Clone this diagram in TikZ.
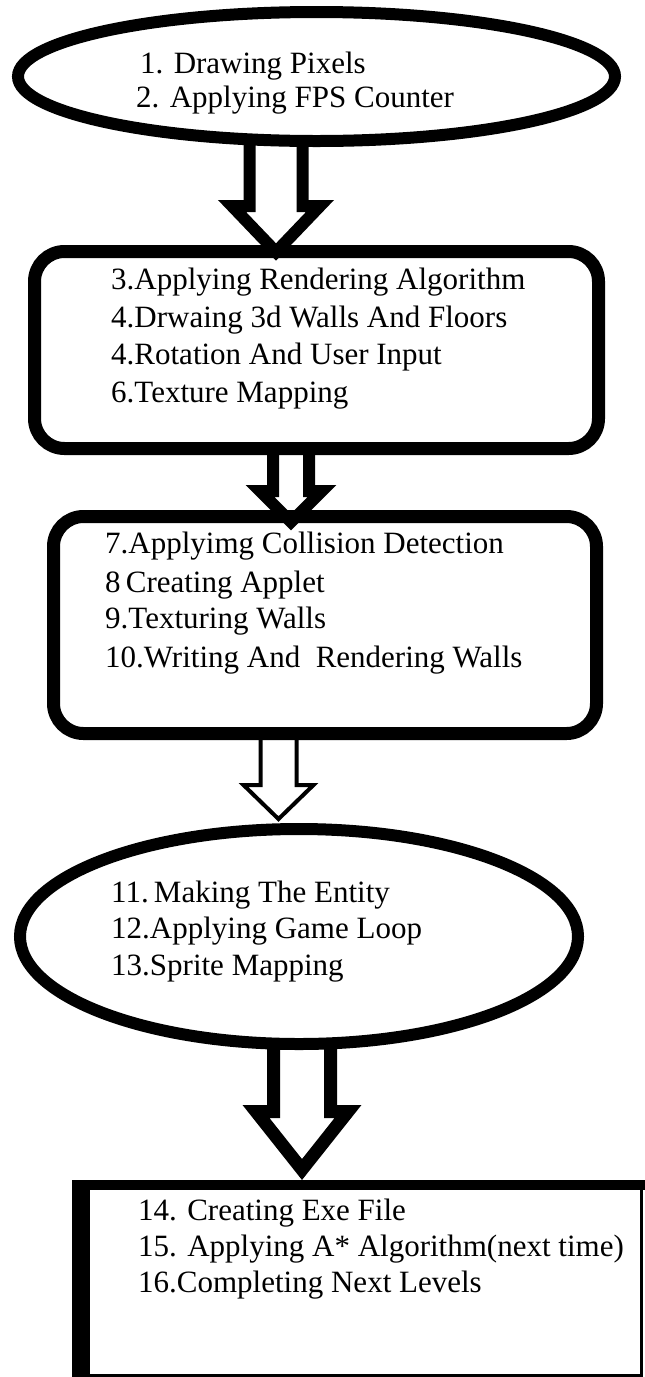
\documentclass[tikz,border=0pt]{standalone}
\usepackage{fontspec}
\setmainfont{Liberation Serif}
\usetikzlibrary{shapes.geometric,calc}

% hollow block arrow: style, start, tip, shaft half width, head half width, head length
\newcommand\flowarrow[6]{%
  \draw[#1] let \p1=(#2), \p2=(#3) in
    (\x1-#4pt,\y1) -- (\x1-#4pt,\y2+#6pt) -- (\x1-#5pt,\y2+#6pt) -- (\x2,\y2)
    -- (\x1+#5pt,\y2+#6pt) -- (\x1+#4pt,\y2+#6pt) -- (\x1+#4pt,\y1);}

\begin{document}
\begin{tikzpicture}[x=1pt,y=-1pt,
  stage/.style={draw=black,fill=white,inner sep=0pt},
  oval/.style={stage,ellipse,line width=12pt},
  roundbox/.style={stage,rectangle,rounded corners=30pt,line width=13pt},
  txt/.style={anchor=base west,inner sep=0pt,font=\fontsize{31}{36}\selectfont},
  thickarrow/.style={draw=black,line width=12pt,line join=miter,miter limit=10},
  thinarrow/.style={draw=black,line width=4pt,line join=miter,miter limit=10}]
\useasboundingbox (0,0) rectangle (645,1377);

% stage shapes
\node[oval,minimum width=597pt,minimum height=129pt] (s1) at (316.5,76.5) {};
\node[roundbox,minimum width=564pt,minimum height=197pt] (s2) at (316.5,350) {};
\node[roundbox,minimum width=543pt,minimum height=217pt] (s3) at (325,625) {};
\node[oval,minimum width=558pt,minimum height=215pt] (s4) at (299,936.5) {};
\node[stage,rectangle,line width=3pt,minimum width=567pt,minimum height=193pt] (s5) at (358,1279) {};
% heavier left and top edges of the last box
\fill ([shift={(-1.5,-1.5)}]s5.north west) rectangle ([shift={(16.5,1.5)}]s5.south west);
\fill ([shift={(-1.5,-1.5)}]s5.north west) rectangle ([shift={(1.5,8.5)}]s5.north east);

% stage texts
\node[txt] (t1a) at (140,73) {1. Drawing Pixels};
\node[txt] (t1b) at (136,107) {2. Applying FPS Counter};

\node[txt] (t2a) at (111,289) {3.Applying Rendering Algorithm};
\node[txt] (t2b) at (111,327) {4.Drwaing 3d Walls And Floors};
\node[txt] (t2c) at (111,364) {4.Rotation And User Input};
\node[txt] (t2d) at (111,402) {6.Texture Mapping};

\node[txt] (t3a) at (105,553) {7.Applyimg Collision Detection};
\node[txt] (t3b) at (105,592) {8\,Creating Applet};
\node[txt] (t3c) at (105,628) {9.Texturing Walls};
\node[txt] (t3d) at (105,667) {10.Writing And\ \ Rendering Walls};

\node[txt] (t4a) at (111,902) {11.\,Making The Entity};
\node[txt] (t4b) at (111,938) {12.Applying Game Loop};
\node[txt] (t4c) at (111,975) {13.Sprite Mapping};

\node[txt] (t5a) at (138,1220) {14. Creating Exe File};
\node[txt] (t5b) at (138,1256) {15. Applying A* Algorithm(next time)};
\node[txt] (t5c) at (138,1292) {16.Completing Next Levels};

% arrow end points
\coordinate (a1from) at (276,140.5);  \coordinate (a1to) at (276,252);
\coordinate (a2from) at (291,449);    \coordinate (a2to) at (291,522);
\coordinate (a3from) at (278.5,734);  \coordinate (a3to) at (278.5,819);
\coordinate (a4from) at (302,1043);   \coordinate (a4to) at (302,1169.5);

% connectors
\flowarrow{thickarrow}{a1from}{a1to}{26.5}{44}{46}
\flowarrow{thickarrow}{a2from}{a2to}{18}{31}{31}
\flowarrow{thinarrow}{a3from}{a3to}{18}{35}{34}
\flowarrow{thickarrow,line width=13pt}{a4from}{a4to}{28.5}{46}{58}
\end{tikzpicture}
\end{document}
